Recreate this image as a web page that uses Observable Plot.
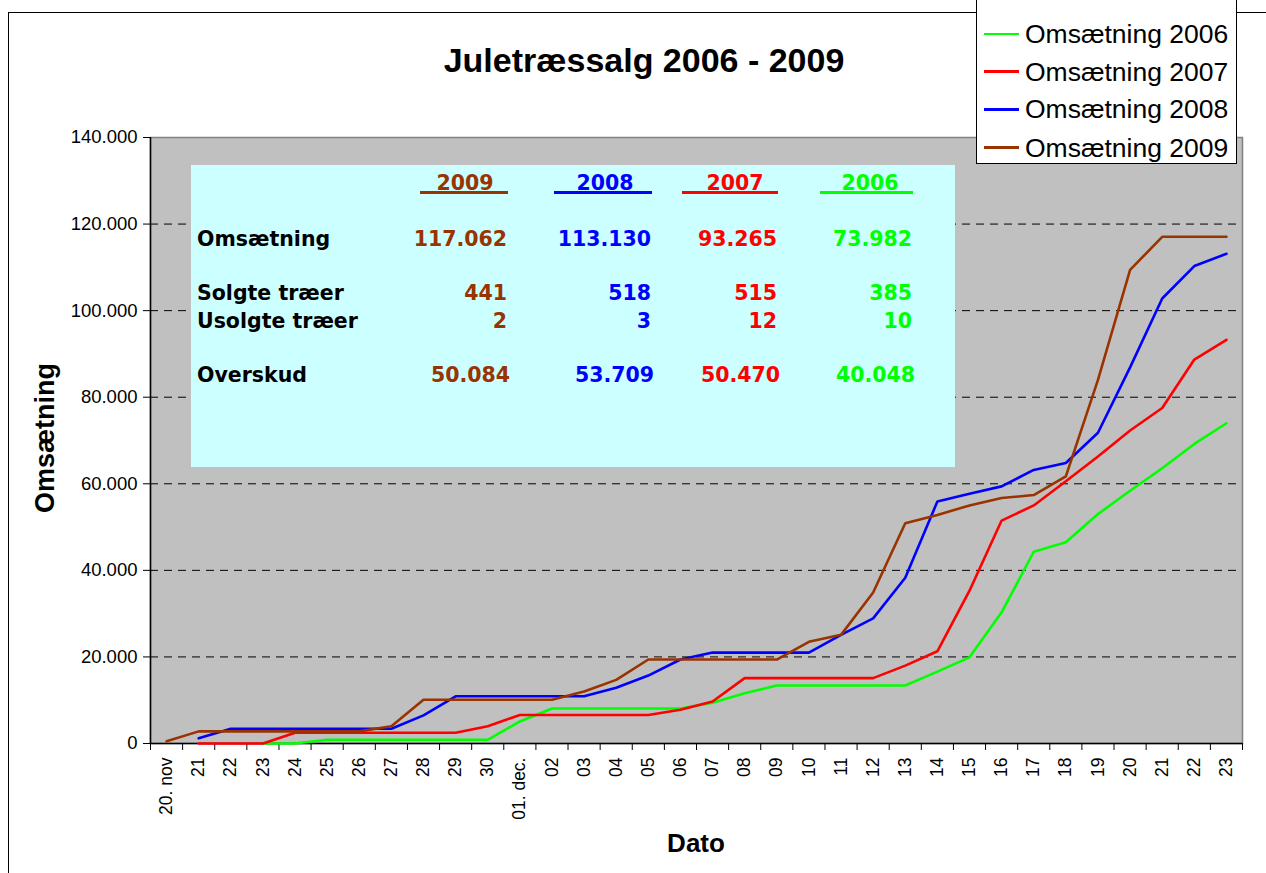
<!DOCTYPE html>
<html>
<head>
<meta charset="utf-8">
<script src="https://cdn.jsdelivr.net/npm/d3@7"></script>
<script src="https://cdn.jsdelivr.net/npm/@observablehq/plot@0.6"></script>
<style>
  html, body { margin: 0; padding: 0; background: #fff; overflow: hidden; }
  #wrap { position: relative; width: 1266px; height: 873px; overflow: hidden; font-family: "Liberation Sans", Arial, sans-serif; }
  #wrap svg { position: absolute; left: 0; top: 0; }
  .t { position: absolute; white-space: pre; line-height: 1; }
</style>
</head>
<body>
<div id="wrap"></div>
<script>
// ---------- data ----------
const dayLabels = ["20. nov","21","22","23","24","25","26","27","28","29","30","01. dec.","02","03","04","05","06","07","08","09","10","11","12","13","14","15","16","17","18","19","20","21","22","23"];
const sales2006 = [null,null,null,0,0,850,850,850,850,850,850,5100,8100,8100,8100,8100,8100,9400,11600,13400,13400,13400,13400,13400,16600,19900,30300,44300,46500,53000,58400,63600,69200,73982];
const sales2007 = [null,0,0,0,2500,2500,2500,2500,2500,2500,4000,6600,6600,6600,6600,6600,7800,9700,15100,15100,15100,15100,15100,18000,21300,35300,51500,55000,60600,66300,72300,77500,88700,93265];
const sales2008 = [null,1200,3400,3400,3400,3400,3400,3400,6500,10900,10900,10900,10900,10900,12900,15700,19400,21000,21000,21000,21000,25100,28900,38300,55900,57700,59400,63200,64800,71800,86900,102800,110300,113130];
const sales2009 = [500,2800,2800,2800,2800,2800,2800,4000,10100,10100,10100,10100,10100,12000,14700,19400,19400,19400,19400,19400,23500,25100,34900,50900,52800,55000,56700,57400,61700,84000,109400,117062,117062,117062];
const seriesNames = ["Omsætning 2006","Omsætning 2007","Omsætning 2008","Omsætning 2009"];
const seriesColors = ["#00ff00","#ff0000","#0000ff","#993300"];
const yTicks = [0,20000,40000,60000,80000,100000,120000,140000];

// summary table
const tableYears = ["2009","2008","2007","2006"];
const tableColors = ["#993300","#0000ff","#ff0000","#00ff00"];
const rowLabels = ["Omsætning","Solgte træer","Usolgte træer","Overskud"];
const totalSales = [117062,113130,93265,73982];
const soldTrees = [441,518,515,385];
const unsoldTrees = [2,3,12,10];
const profit = [50084,53709,50470,40048];

// ---------- chart ----------
const da = d3.formatLocale({decimal: ",", thousands: ".", grouping: [3], currency: ["", " kr"]});
const fmt = da.format(",d");
const allSeries = [sales2006, sales2007, sales2008, sales2009];
const rows = [];
allSeries.forEach((arr, s) => arr.forEach((v, i) => rows.push({series: seriesNames[s], i, v})));

const W = 1266, H = 873;
const chart = Plot.plot({
  width: W, height: H,
  marginLeft: 150, marginRight: 24, marginTop: 137, marginBottom: 130,
  style: {fontFamily: "'Liberation Sans', Arial, sans-serif", fontSize: "17px", background: "transparent", color: "black"},
  x: {type: "linear", domain: [-0.5, dayLabels.length - 0.5]},
  y: {domain: [0, 140000]},
  color: {domain: seriesNames, range: seriesColors},
  marks: [
    Plot.frame({fill: "#c0c0c0", stroke: "#808080", strokeWidth: 1.5}),
    Plot.gridY(yTicks.filter(d => d > 0 && d < 140000), {stroke: "black", strokeOpacity: 1, strokeDasharray: "8,6", strokeWidth: 1}),
    Plot.axisY(yTicks, {tickSize: 7, tickPadding: 6, tickFormat: fmt, fontSize: 18.5, label: null, strokeWidth: 1}),
    Plot.axisX(d3.range(-0.5, dayLabels.length, 1), {tickSize: 7, tickFormat: () => "", label: null}),
    Plot.axisX(d3.range(dayLabels.length), {tickSize: 0, tickRotate: -90, tickPadding: 14, tickFormat: i => dayLabels[i], fontSize: 17.5, label: null}),
    Plot.ruleX([-0.5], {stroke: "black", strokeWidth: 1.5}),
    Plot.ruleY([0], {stroke: "black", strokeWidth: 1.5}),
    Plot.line(rows.filter(d => d.v != null), {x: "i", y: "v", z: "series", stroke: "series", strokeWidth: 2.6, strokeLinejoin: "miter", curve: "linear"})
  ]
});
const wrap = document.getElementById("wrap");

// outer chart border
const border = document.createElement("div");
Object.assign(border.style, {position: "absolute", left: "8px", top: "12px", width: "1400px", height: "1000px", border: "1.5px solid black", boxSizing: "border-box"});
wrap.appendChild(border);
wrap.appendChild(chart);

function place(text, x, y, o = {}) {
  const el = document.createElement("div");
  el.className = "t";
  el.textContent = text;
  const ax = o.anchor === "end" ? "-100%" : o.anchor === "middle" ? "-50%" : "0";
  Object.assign(el.style, {
    left: x + "px", top: y + "px",
    fontSize: (o.size || 17) + "px",
    fontWeight: o.weight || "normal",
    color: o.color || "black",
    fontFamily: o.family || "'Liberation Sans', Arial, sans-serif",
    transform: `translate(${ax}, -50%)` + (o.rotate ? ` rotate(${o.rotate}deg)` : "")
  });
  wrap.appendChild(el);
  return el;
}
function box(x, y, w, h, st) {
  const el = document.createElement("div");
  Object.assign(el.style, {position: "absolute", left: x + "px", top: y + "px", width: w + "px", height: h + "px", boxSizing: "border-box"}, st);
  wrap.appendChild(el);
  return el;
}

// title and axis labels
place("Juletræssalg 2006 - 2009", 644, 60, {anchor: "middle", size: 34, weight: "bold"});
place("Dato", 696, 843, {anchor: "middle", size: 26, weight: "bold"});
const yl = place("Omsætning", 45, 438, {size: 27, weight: "bold"});
yl.style.transform = "translate(-50%, -50%) rotate(-90deg)";

// summary table
const tf = "'DejaVu Sans', Verdana, sans-serif";
box(191, 165, 764, 302, {background: "#ccffff"});
const colRight = [508, 652, 778, 913];
const ulLeft = [420, 554, 682, 820];
const colHeaderCenter = [465, 605, 735, 870];
const rowY = [239, 293, 321, 375];
tableYears.forEach((yr, c) => {
  place(yr, colHeaderCenter[c], 183, {anchor: "middle", size: 20.5, weight: "bold", color: tableColors[c], family: tf});
  box(ulLeft[c], 191, colRight[c] - ulLeft[c], 2.5, {background: tableColors[c]});
  const vals = [fmt(totalSales[c]), fmt(soldTrees[c]), fmt(unsoldTrees[c]), fmt(profit[c])];
  vals.forEach((v, r) => place(v, colRight[c] - (r === 3 ? -2 : 1), rowY[r], {anchor: "end", size: 20.5, weight: "bold", color: tableColors[c], family: tf}));
});
rowLabels.forEach((lab, r) => place(lab, 197, rowY[r], {size: 20.5, weight: "bold", family: tf}));

// legend
box(976, -3, 261, 167, {background: "white", border: "1.5px solid black"});
const legY = [34, 71.7, 109.3, 147.7];
seriesNames.forEach((n, k) => {
  box(984, legY[k] - 1.25, 35, 2.5, {background: seriesColors[k]});
  place(n, 1025, legY[k], {size: 26.5});
});
</script>
</body>
</html>
